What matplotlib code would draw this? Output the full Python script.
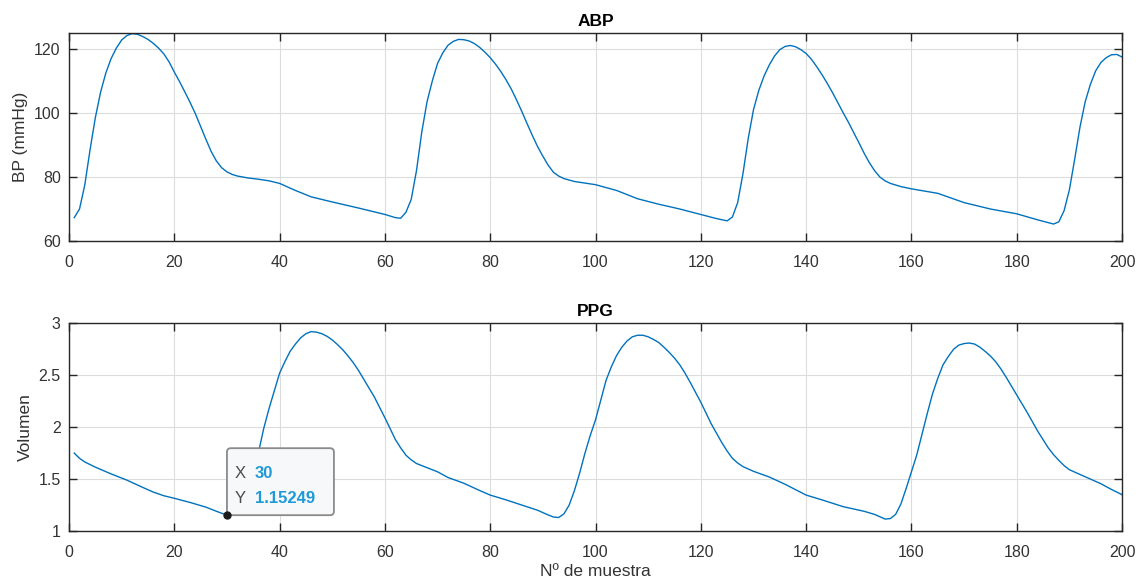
import matplotlib
matplotlib.use('Agg')
import matplotlib.pyplot as plt
import matplotlib.transforms as mtransforms
from matplotlib.patches import FancyBboxPatch

plt.rcParams['font.family'] = ['Liberation Sans', 'DejaVu Sans']

# ABP (muestras)
abp_x = [1, 2, 3, 4, 5, 6, 7, 8, 9, 10,
         11, 12, 13, 14, 15, 16, 17, 18, 19, 20,
         21, 22, 23, 24, 25, 26, 27, 28, 29, 30,
         31, 32, 34, 36, 38, 40, 43, 46, 50, 55,
         60, 62, 63, 64, 65, 66, 67, 68, 69, 70,
         71, 72, 73, 74, 75, 76, 77, 78, 79, 80,
         81, 82, 83, 84, 85, 86, 87, 88, 89, 90,
         91, 92, 93, 94, 96, 100, 104, 108, 112, 116,
         120, 123, 125, 126, 127, 128, 129, 130, 131, 132,
         133, 134, 135, 136, 137, 138, 139, 140, 141, 142,
         143, 144, 145, 146, 147, 148, 149, 150, 151, 152,
         153, 154, 155, 156, 158, 160, 165, 170, 175, 180,
         184, 187, 188, 189, 190, 191, 192, 193, 194, 195,
         196, 197, 198, 199, 200]
abp_y = [67.3, 70.0, 77.5, 88.5, 98.5, 106.5, 112.5, 117.0, 120.3, 122.8,
         124.2, 124.8, 124.6, 123.9, 123.0, 121.8, 120.3, 118.5, 116.0, 112.8,
         109.8, 106.6, 103.3, 99.8, 95.8, 91.8, 88.0, 85.0, 82.9, 81.6,
         80.8, 80.3, 79.7, 79.3, 78.8, 78.0, 75.8, 73.8, 72.2, 70.3,
         68.3, 67.3, 67.1, 69.0, 73.0, 82.0, 94.0, 103.5, 110.0, 115.5,
         118.8, 121.2, 122.4, 123.0, 122.9, 122.5, 121.7, 120.5, 119.0, 117.3,
         115.3, 113.0, 110.4, 107.5, 104.1, 100.5, 96.7, 93.0, 89.5, 86.5,
         83.7, 81.5, 80.3, 79.5, 78.6, 77.6, 75.8, 73.2, 71.5, 70.0,
         68.3, 67.0, 66.3, 67.5, 72.0, 81.0, 92.0, 101.0, 107.0, 111.5,
         115.0, 117.8, 119.8, 120.8, 121.1, 120.7, 119.8, 118.6, 116.8, 114.5,
         112.0, 109.3, 106.4, 103.3, 100.2, 97.2, 94.0, 90.8, 87.5, 84.5,
         82.0, 80.0, 78.8, 78.0, 77.0, 76.3, 74.9, 72.0, 70.0, 68.5,
         66.6, 65.3, 66.0, 69.5, 76.0, 85.5, 95.5, 103.5, 109.0, 113.2,
         115.8, 117.3, 118.2, 118.3, 117.5]

# PPG
ppg_x = [1, 2, 3, 5, 8, 11, 14, 16, 18, 20,
         23, 26, 28, 30, 31, 32, 33, 34, 35, 36,
         37, 38, 39, 40, 41, 42, 43, 44, 45, 46,
         47, 48, 49, 50, 51, 52, 53, 54, 55, 56,
         57, 58, 59, 60, 61, 62, 63, 64, 65, 66,
         68, 70, 72, 75, 78, 80, 83, 86, 89, 91,
         92, 93, 94, 95, 96, 97, 98, 99, 100, 101,
         102, 103, 104, 105, 106, 107, 108, 109, 110, 111,
         112, 113, 114, 115, 116, 117, 118, 119, 120, 121,
         122, 123, 124, 125, 126, 127, 128, 130, 133, 136,
         140, 143, 147, 151, 153, 155, 156, 157, 158, 159,
         160, 161, 162, 163, 164, 165, 166, 167, 168, 169,
         170, 171, 172, 173, 174, 175, 176, 177, 178, 179,
         180, 181, 182, 183, 184, 185, 186, 187, 188, 189,
         190, 192, 194, 196, 198, 200]
ppg_y = [1.75, 1.70, 1.665, 1.615, 1.55, 1.49, 1.42, 1.375, 1.34, 1.315,
         1.275, 1.23, 1.19, 1.15249, 1.16, 1.19, 1.25, 1.37, 1.55, 1.76,
         1.99, 2.18, 2.35, 2.52, 2.63, 2.73, 2.80, 2.86, 2.90, 2.92,
         2.915, 2.90, 2.875, 2.84, 2.795, 2.745, 2.685, 2.62, 2.545, 2.46,
         2.375, 2.29, 2.19, 2.09, 1.985, 1.88, 1.80, 1.73, 1.685, 1.65,
         1.61, 1.57, 1.515, 1.46, 1.39, 1.346, 1.30, 1.25, 1.20, 1.155,
         1.135, 1.13, 1.165, 1.25, 1.39, 1.56, 1.75, 1.92, 2.07, 2.26,
         2.45, 2.58, 2.69, 2.77, 2.83, 2.87, 2.885, 2.885, 2.87, 2.845,
         2.815, 2.77, 2.72, 2.665, 2.60, 2.52, 2.43, 2.335, 2.24, 2.135,
         2.03, 1.94, 1.85, 1.77, 1.70, 1.655, 1.62, 1.575, 1.52, 1.45,
         1.346, 1.30, 1.235, 1.19, 1.16, 1.115, 1.12, 1.16, 1.26, 1.41,
         1.57, 1.73, 1.93, 2.13, 2.32, 2.47, 2.60, 2.68, 2.75, 2.79,
         2.805, 2.81, 2.80, 2.77, 2.73, 2.685, 2.63, 2.56, 2.48, 2.395,
         2.31, 2.225, 2.14, 2.05, 1.96, 1.88, 1.80, 1.735, 1.68, 1.63,
         1.59, 1.545, 1.50, 1.455, 1.40, 1.35]

x_ticks = [0, 20, 40, 60, 80, 100, 120, 140, 160, 180, 200]
abp_ticks = [60, 80, 100, 120]
ppg_ticks = [1, 1.5, 2, 2.5, 3]
ppg_tick_labels = ['1', '1.5', '2', '2.5', '3']

# datatip en la muestra 30
tip_idx = ppg_x.index(30)

line_color = '#0072BD'
axis_color = '#262626'
text_color = '#333333'

fig = plt.figure(figsize=(11.44, 5.82), dpi=100)
ax1 = fig.add_axes([0.0603, 0.5859, 0.9205, 0.3574])
ax2 = fig.add_axes([0.0603, 0.0876, 0.9205, 0.3569])


def matlab_style(ax):
    ax.set_xlim(0, 200)
    ax.set_xticks(x_ticks)
    ax.grid(True, color='#dcdcdc', linewidth=0.8)
    ax.set_axisbelow(True)
    for sp in ax.spines.values():
        sp.set_color(axis_color)
        sp.set_linewidth(1.0)
    ax.tick_params(direction='in', length=5.5, width=1.0, colors=axis_color,
                   labelcolor=text_color, labelsize=11.5, top=True, right=True)
    ax.tick_params(axis='x', pad=10)
    ax.tick_params(axis='y', pad=6)


ax1.plot(abp_x, abp_y, color=line_color, linewidth=1.0)
matlab_style(ax1)
ax1.set_ylim(60, 125)
ax1.set_yticks(abp_ticks)
ax1.set_title('ABP', fontsize=12.5, fontweight='bold', color='black', pad=5)
ax1.set_ylabel('BP (mmHg)', fontsize=12.5, color=text_color, labelpad=4)

ax2.plot(ppg_x, ppg_y, color=line_color, linewidth=1.0)
matlab_style(ax2)
ax2.set_ylim(1, 3)
ax2.set_yticks(ppg_ticks)
ax2.set_yticklabels(ppg_tick_labels)
ax2.set_title('PPG', fontsize=12.5, fontweight='bold', color='black', pad=5)
ax2.set_ylabel('Volumen', fontsize=12.5, color=text_color, labelpad=4)
ax2.set_xlabel('Nº de muestra', fontsize=12.5, color=text_color, labelpad=3)

# datatip
tx, ty = ppg_x[tip_idx], ppg_y[tip_idx]
trans = fig.dpi_scale_trans + mtransforms.ScaledTranslation(tx, ty, ax2.transData)
box = FancyBboxPatch((0.0, 0.0), 1.07, 0.67, boxstyle='round,pad=0,rounding_size=0.04',
                     transform=trans, facecolor='#f7f8fa', edgecolor='#8a8a8a',
                     linewidth=1.3, zorder=5, clip_on=False)
ax2.add_patch(box)
ax2.plot([tx], [ty], 'o', color='#1a1a1a', markersize=5, zorder=6, clip_on=False)
ax2.text(0.08, 0.37, 'X', transform=trans, fontsize=12, color='#4d4d4d', zorder=7)
ax2.text(0.28, 0.37, f'{tx}', transform=trans, fontsize=12, color='#1f9ad6',
         fontweight='bold', zorder=7)
ax2.text(0.08, 0.12, 'Y', transform=trans, fontsize=12, color='#4d4d4d', zorder=7)
ax2.text(0.28, 0.12, f'{ty:.5f}', transform=trans, fontsize=12, color='#1f9ad6',
         fontweight='bold', zorder=7)

fig.savefig('out.png', dpi=100, facecolor='white')
